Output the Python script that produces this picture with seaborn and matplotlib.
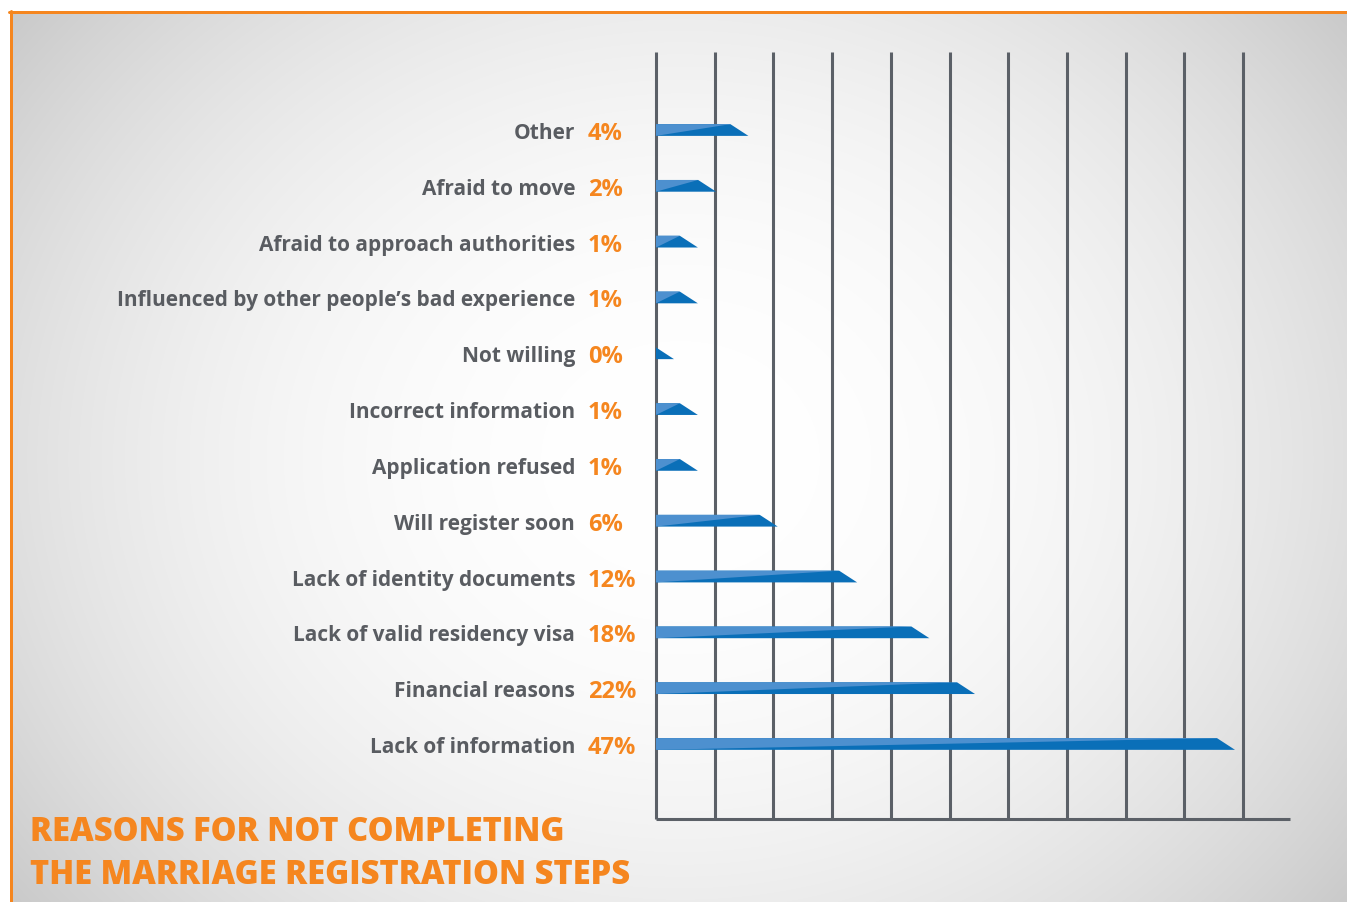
import numpy as np
import pandas as pd
import matplotlib
matplotlib.use("Agg")
import matplotlib.pyplot as plt
import seaborn as sns
from matplotlib.patches import Polygon
from matplotlib.lines import Line2D
from matplotlib.transforms import IdentityTransform, blended_transform_factory

# ---------------- data ----------------
categories = [
    "Other",
    "Afraid to move",
    "Afraid to approach authorities",
    "Influenced by other people\u2019s bad experience",
    "Not willing",
    "Incorrect information",
    "Application refused",
    "Will register soon",
    "Lack of identity documents",
    "Lack of valid residency visa",
    "Financial reasons",
    "Lack of information",
]
values = [4, 2, 1, 1, 0, 1, 1, 6, 12, 18, 22, 47]
pct_labels = [f"{v}%" for v in values]
title_lines = ["REASONS FOR NOT COMPLETING", "THE MARRIAGE REGISTRATION STEPS"]

# ---------------- style ----------------
W, H = 1347, 903
DPI = 100
ORANGE = "#f5861f"
LABEL_GREY = "#595c61"
GRID_GREY = "#5b6067"
DARK_BLUE = "#0a6fb8"
LIGHT_BLUE = "#4d90cf"

sns.set_theme(style="white")
plt.rcParams["font.family"] = ["Open Sans", "DejaVu Sans"]

fig = plt.figure(figsize=(W / DPI, H / DPI), dpi=DPI)
fig.patch.set_facecolor("white")

# background radial gradient panel
bx0, by_top = 12, 14
bg = fig.add_axes([bx0 / W, 0, 1 - bx0 / W, 1 - by_top / H])
bg.set_axis_off()
xs = np.arange(bx0, W)
ys = np.arange(by_top, H)
XX, YY = np.meshgrid(xs, ys)
cx, cy = 680, 460
r = np.sqrt(((XX - cx) / 1.0) ** 2 + ((YY - cy) / 0.85) ** 2)
v = 1.0 - 0.21 * np.clip(r / 850, 0, 1.1) ** 2.2
img = np.dstack([v, v, v])
bg.imshow(img, aspect="auto", extent=[0, 1, 0, 1], interpolation="bilinear")
bg.set_xlim(0, 1)
bg.set_ylim(0, 1)

# orange frame lines (top and left)
fig.add_artist(Line2D([9 / W, 1], [1 - 13 / H, 1 - 13 / H], color=ORANGE,
                      lw=3 * 0.72, transform=fig.transFigure))
fig.add_artist(Line2D([10.5 / W, 10.5 / W], [0, 1 - 12 / H], color=ORANGE,
                      lw=3 * 0.72, transform=fig.transFigure))

# main axes
L, R, T, B = 656, 1290, 53, 820
ax = fig.add_axes([L / W, 1 - B / H, (R - L) / W, (B - T) / H])
ax.set_facecolor("none")

EXP = 0.82
fwd = lambda x: np.sign(x) * np.abs(x) ** EXP
inv = lambda x: np.sign(x) * np.abs(x) ** (1 / EXP)
ax.set_xscale("function", functions=(fwd, inv))
px_per_unit = 561 / (47 ** EXP)

df = pd.DataFrame({"reason": categories, "value": values})
sns.barplot(data=df, x="value", y="reason", orient="h", width=0.21,
            color=DARK_BLUE, saturation=1, ax=ax, zorder=3)

n = len(categories)
ax.set_ylim(n - 1 + (B - 745) / 55.8, -(131 - T) / 55.8)
ax.set_xlim(0, inv((R - L) / px_per_unit))

for s in ax.spines.values():
    s.set_visible(False)
ax.set_xlabel("")
ax.set_ylabel("")
ax.set_xticks([])
ax.tick_params(axis="y", length=0, pad=(L - 575) * 0.72)
for lab in ax.get_yticklabels():
    lab.set_color(LABEL_GREY)
    lab.set_fontsize(15)
    lab.set_fontweight("bold")

# vertical grid lines + bottom axis line (decorative)
spacing = 58.7 / (R - L)
for k in range(11):
    ax.plot([k * spacing, k * spacing], [0, 1], transform=ax.transAxes,
            color=GRID_GREY, lw=2.2, solid_capstyle="butt", zorder=1, clip_on=False)
ax.plot([0, 1], [0, 0], transform=ax.transAxes, color=GRID_GREY, lw=2.2,
        solid_capstyle="butt", zorder=1, clip_on=False)

# reshape bars into arrow-tipped two-tone shapes
TIP = 18
for p in list(ax.patches):
    x0, y0 = p.get_x(), p.get_y()
    w, h = p.get_width(), p.get_height()
    (dx0, dya), (dx1, dyb) = ax.transData.transform([(x0, y0), (x0 + w, y0 + h)])
    top, bot = max(dya, dyb), min(dya, dyb)
    dark = Polygon([(dx0, top), (dx1, top), (dx1 + TIP, bot), (dx0, bot)],
                   closed=True, facecolor=DARK_BLUE, edgecolor="none",
                   transform=IdentityTransform(), zorder=3)
    light = Polygon([(dx0, top), (dx1, top), (dx0, bot)], closed=True,
                    facecolor=LIGHT_BLUE, edgecolor="none",
                    transform=IdentityTransform(), zorder=4)
    ax.add_artist(dark)
    ax.add_artist(light)
    p.set_visible(False)

# percentage labels
trans = blended_transform_factory(ax.transAxes, ax.transData)
for i, t in enumerate(pct_labels):
    ax.text((588 - L) / (R - L), i, t, transform=trans, ha="left",
            va="center_baseline", color=ORANGE, fontsize=17,
            fontweight="bold", clip_on=False)

# title
fig.text(30 / W, 1 - 832 / H, title_lines[0], ha="left", va="center",
         color=ORANGE, fontsize=23.5, fontweight="heavy")
fig.text(30 / W, 1 - 875 / H, title_lines[1], ha="left", va="center",
         color=ORANGE, fontsize=23.5, fontweight="heavy")

fig.savefig("out.png", dpi=DPI)
